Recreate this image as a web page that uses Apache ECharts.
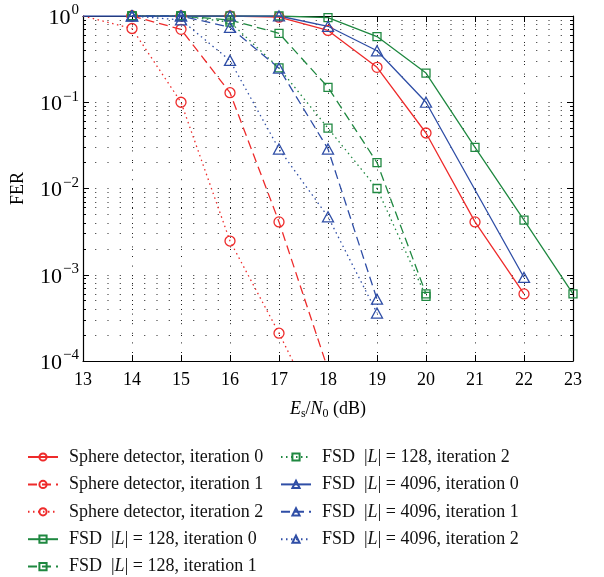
<!DOCTYPE html>
<html><head><meta charset="utf-8">
<script src="https://cdn.jsdelivr.net/npm/echarts@6/dist/echarts.min.js"></script>
<style>html,body{margin:0;padding:0;background:#fff}#c{width:604px;height:577px}</style>
</head><body><div id="c"></div>
<script>
// ---- data (x = Es/N0 in dB, y = FER) ----
const xMin = 13, xMax = 23;
const yMin = 1e-4, yMax = 1;

const sd0 = [[14,1],[15,1],[16,1],[17,0.97],[18,0.68],[19,0.254],[20,0.044],[21,0.0041],[22,0.0006]];
const sd1 = [[14,1],[15,0.70],[16,0.129],[17,0.0041],[18,0.00008]];
const sd2 = [[13,1],[14,0.716],[15,0.1],[16,0.00246],[17,0.00021],[18,0.000015]];
const fsd128_0 = [[14,1],[15,1],[16,1],[17,1],[18,0.96],[19,0.578],[20,0.218],[21,0.030],[22,0.0043],[23,0.0006]];
const fsd128_1 = [[14,1],[15,1],[16,0.9],[17,0.63],[18,0.149],[19,0.02],[20,0.0006]];
const fsd128_2 = [[14,1],[15,1],[16,0.85],[17,0.25],[18,0.05],[19,0.01],[20,0.00056]];
const fsd4096_0 = [[13,1],[14,1],[15,1],[16,1],[17,1],[18,0.76],[19,0.395],[20,0.1],[22,0.00093]];
const fsd4096_1 = [[14,1],[15,1],[16,0.74],[17,0.248],[18,0.0287],[19,0.00052]];
const fsd4096_2 = [[14,1],[15,0.9],[16,0.305],[17,0.0287],[18,0.0047],[19,0.00036]];

const seriesNames = [
  'Sphere detector, iteration 0',
  'Sphere detector, iteration 1',
  'Sphere detector, iteration 2',
  'FSD  |L| = 128, iteration 0',
  'FSD  |L| = 128, iteration 1',
  'FSD  |L| = 128, iteration 2',
  'FSD  |L| = 4096, iteration 0',
  'FSD  |L| = 4096, iteration 1',
  'FSD  |L| = 4096, iteration 2'
];
const seriesData = [sd0, sd1, sd2, fsd128_0, fsd128_1, fsd128_2, fsd4096_0, fsd4096_1, fsd4096_2];

// ---- styles ----
const RED = '#ee2b2b', GREEN = '#1f8840', BLUE = '#2f4ea6';
const colors = [RED, RED, RED, GREEN, GREEN, GREEN, BLUE, BLUE, BLUE];
const symbols = ['circle','circle','circle','rect','rect','rect','triangle','triangle','triangle'];
const symSizes = [10,10,10,8,8,8,[11,10],[11,10],[11,10]];
const dashes = ['solid',[9,5],[1.5,3.5],'solid',[9,5],[1.5,3.5],'solid',[9,5],[1.5,3.5]];
const SERIF = 'Liberation Serif';

const series = seriesData.map((d, i) => ({
  name: seriesNames[i],
  type: 'line',
  data: d.map(p => p[0] === xMin ? {value: p, symbol: 'none'} : {value: p}),
  symbol: symbols[i],
  symbolSize: symSizes[i],
  showAllSymbol: true,
  clip: true,
  lineStyle: {color: colors[i], width: 1.3, type: dashes[i]},
  itemStyle: {color: 'rgba(255,255,255,0)', borderColor: colors[i], borderWidth: 1.3},
  emphasis: {disabled: true},
  z: 3
}));

function legendFmt(name) {
  if (name.indexOf('|L|') >= 0) {
    const parts = name.split('|L|');
    return '{f|' + parts[0] + '|}{i|L}{n||' + parts[1] + '}';
  }
  return '{f|' + name + '}';
}
const LH = 19;
const legendText = {
  fontFamily: SERIF, fontSize: 18, color: '#111', lineHeight: LH,
  rich: {
    f: {fontFamily: SERIF, fontSize: 18, color: '#111', lineHeight: LH, padding: [0, 0, 0, 6]},
    n: {fontFamily: SERIF, fontSize: 18, color: '#111', lineHeight: LH},
    i: {fontFamily: SERIF, fontSize: 18, color: '#111', fontStyle: 'italic', lineHeight: LH}
  }
};
const legendBase = {
  orient: 'vertical', itemWidth: 30, itemHeight: 9, itemGap: 8.4,
  padding: 0, formatter: legendFmt, textStyle: legendText, selectedMode: false
};

const supRich = {
  b: {fontFamily: SERIF, fontSize: 22, color: '#000', lineHeight: 26, verticalAlign: 'bottom'},
  s: {fontFamily: SERIF, fontSize: 15, color: '#000', lineHeight: 15, verticalAlign: 'top', padding: [0, 0, 0, 1]}
};
const gridDot = {color: '#222', width: 1, type: [1, 11.25]};

const chart = echarts.init(document.getElementById('c'), null, {renderer: 'canvas'});
chart.setOption({
  animation: false,
  backgroundColor: '#fff',
  grid: {left: 83, right: 31, top: 16, bottom: 216, containLabel: false},
  legend: [
    Object.assign({}, legendBase, {left: 27, top: 447.5, data: seriesNames.slice(0, 5)}),
    Object.assign({}, legendBase, {left: 280, top: 447.5, data: seriesNames.slice(5)})
  ],
  xAxis: [{
    type: 'value', min: xMin, max: xMax, interval: 1, position: 'bottom',
    axisLine: {show: true, onZero: false, lineStyle: {color: '#000', width: 1.2}},
    axisTick: {show: true, inside: true, length: 6, lineStyle: {color: '#000'}},
    splitLine: {show: true, lineStyle: {color: '#222', width: 1, type: [1, 8.6]}},
    axisLabel: {fontFamily: SERIF, fontSize: 18, color: '#000', margin: 10},
    name: '{i|E}{sub|s}{n|/}{i|N}{sub|0}{n| (dB)}',
    nameLocation: 'middle', nameGap: 38,
    nameTextStyle: {
      rich: {
        i: {fontFamily: SERIF, fontSize: 18, fontStyle: 'italic', color: '#000'},
        n: {fontFamily: SERIF, fontSize: 18, color: '#000'},
        sub: {fontFamily: SERIF, fontSize: 12, color: '#000', padding: [9, 0, 0, 0]}
      }
    }
  }, {
    type: 'value', min: xMin, max: xMax, interval: 1, position: 'top',
    axisLine: {show: true, onZero: false, lineStyle: {color: '#000', width: 1.2}},
    axisTick: {show: true, inside: true, length: 6, lineStyle: {color: '#000'}},
    splitLine: {show: false}, axisLabel: {show: false}
  }],
  yAxis: [{
    type: 'log', logBase: 10, min: yMin, max: yMax, position: 'left',
    axisLine: {show: true, onZero: false, lineStyle: {color: '#000', width: 1.2}},
    axisTick: {show: true, inside: true, length: 6, lineStyle: {color: '#000'}},
    minorTick: {show: true, splitNumber: 9, length: 3, lineStyle: {color: '#000'}},
    splitLine: {show: true, lineStyle: gridDot},
    minorSplitLine: {show: true, lineStyle: gridDot},
    axisLabel: {
      margin: 4,
      formatter: v => {
        const e = Math.round(Math.log10(v));
        return '{b|10}{s|' + (e < 0 ? '\u2212' + (-e) : e) + '}';
      },
      rich: supRich
    },
    name: 'FER', nameLocation: 'middle', nameGap: 56, nameRotate: 90,
    nameTextStyle: {fontFamily: SERIF, fontSize: 18, color: '#000'}
  }, {
    type: 'log', logBase: 10, min: yMin, max: yMax, position: 'right',
    axisLine: {show: true, onZero: false, lineStyle: {color: '#000', width: 1.2}},
    axisTick: {show: true, inside: true, length: 6, lineStyle: {color: '#000'}},
    minorTick: {show: true, splitNumber: 9, length: 3, lineStyle: {color: '#000'}},
    splitLine: {show: false}, axisLabel: {show: false}
  }],
  series: series
});
</script>
</body></html>
